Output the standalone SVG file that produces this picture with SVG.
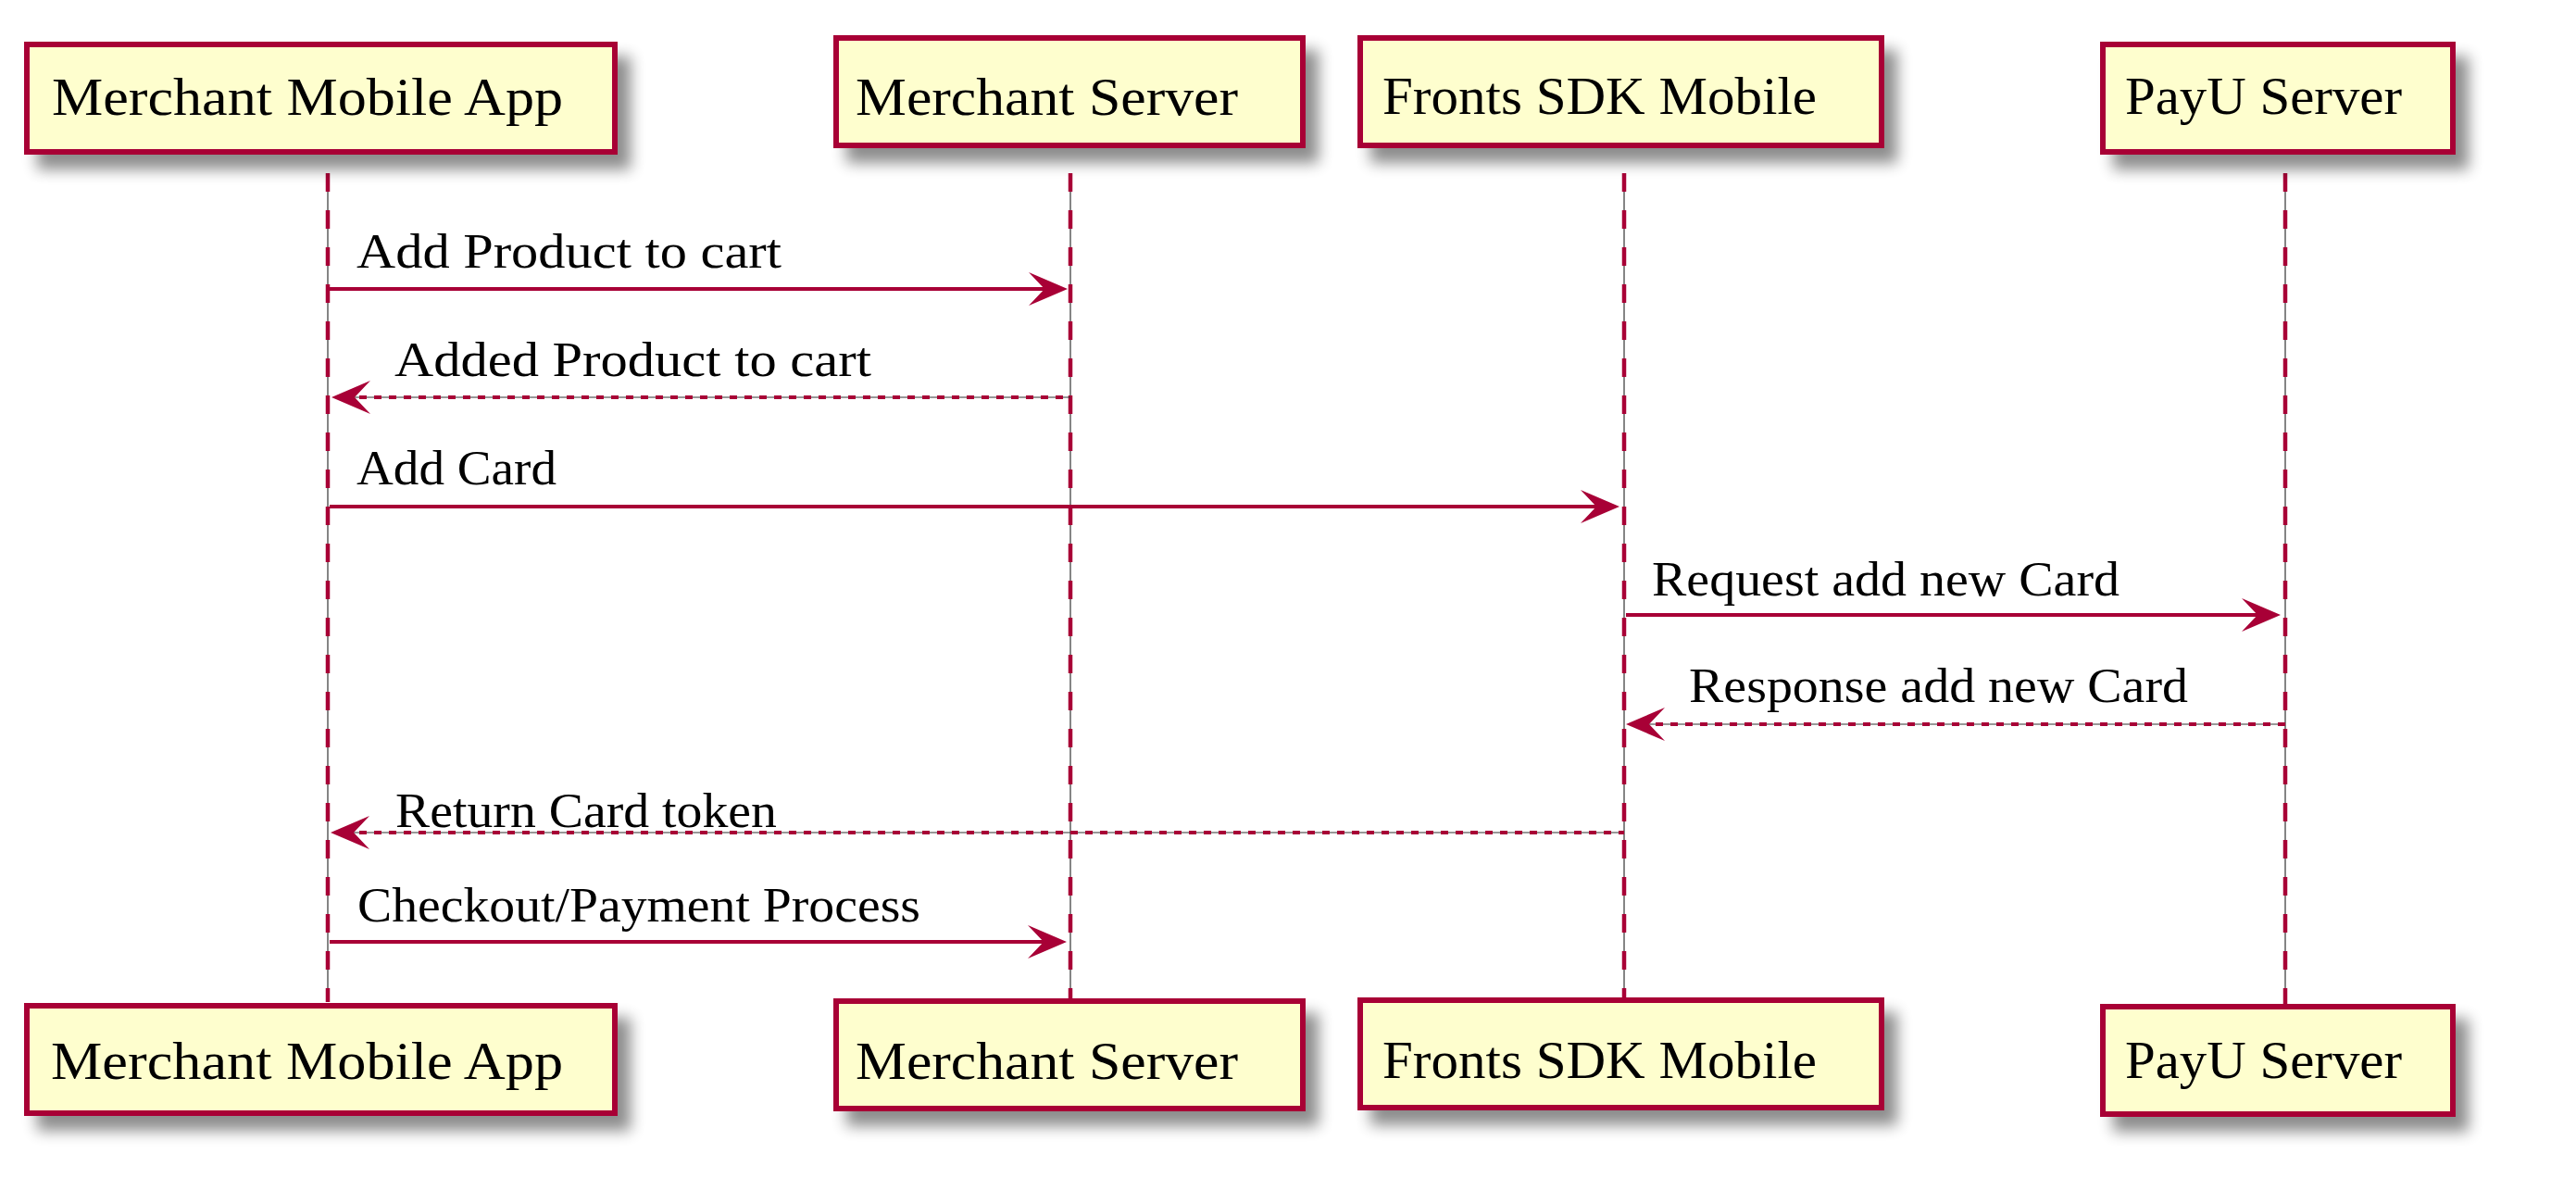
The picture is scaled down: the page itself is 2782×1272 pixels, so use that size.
<svg xmlns="http://www.w3.org/2000/svg" width="2782" height="1272" viewBox="0 0 2782 1272">
<style>
.box{fill:#FEFECE;stroke:#A80036;stroke-width:6;filter:url(#shadow)}
.pt{font-family:"Liberation Serif","Times New Roman",serif;font-size:56px;fill:#000}
.mt{font-family:"Liberation Serif","Times New Roman",serif;font-size:52px;fill:#000}
.life{stroke:#A80036;stroke-width:4.5;stroke-dasharray:20 20;fill:none}
.thin{stroke:#333;stroke-width:1.2;fill:none}
.msg{stroke:#A80036;stroke-width:4;fill:none}
.dash{stroke-dasharray:8 8}
.head{fill:#A80036;stroke:none}
</style>
<defs>
<filter id="shadow" x="-10%" y="-20%" width="130%" height="160%">
<feGaussianBlur in="SourceAlpha" stdDeviation="8" result="b"/>
<feOffset in="b" dx="14" dy="16" result="o"/>
<feComponentTransfer in="o" result="s"><feFuncA type="linear" slope="0.45"/></feComponentTransfer>
<feMerge><feMergeNode in="s"/><feMergeNode in="SourceGraphic"/></feMerge>
</filter>
</defs>
<rect width="2782" height="1272" fill="#FFFFFF"/>
<g id="connectors">
<g id="lifelines">
<line class="thin" x1="354" y1="187" x2="354" y2="1082"/>
<line class="life" x1="354" y1="187" x2="354" y2="1082"/>
<line class="thin" x1="1156" y1="187" x2="1156" y2="1078"/>
<line class="life" x1="1156" y1="187" x2="1156" y2="1078"/>
<line class="thin" x1="1754" y1="187" x2="1754" y2="1077"/>
<line class="life" x1="1754" y1="187" x2="1754" y2="1077"/>
<line class="thin" x1="2468" y1="187" x2="2468" y2="1084"/>
<line class="life" x1="2468" y1="187" x2="2468" y2="1084"/>
</g>
<g id="m1">
<line class="msg" x1="356" y1="312" x2="1140" y2="312"/>
<polygon class="head" points="1153,312 1111,294 1128,312 1111,330"/>
<text class="mt" x="385" y="289" textLength="459" lengthAdjust="spacingAndGlyphs">Add Product to cart</text>
</g>
<g id="m2">
<line class="thin" x1="380" y1="429" x2="1156" y2="429"/>
<line class="msg dash" x1="372" y1="429" x2="1156" y2="429"/>
<polygon class="head" points="358,429 400,411 383,429 400,447"/>
<text class="mt" x="426" y="406" textLength="515" lengthAdjust="spacingAndGlyphs">Added Product to cart</text>
</g>
<g id="m3">
<line class="msg" x1="356" y1="547" x2="1736" y2="547"/>
<polygon class="head" points="1749,547 1707,529 1724,547 1707,565"/>
<text class="mt" x="385" y="523" textLength="216" lengthAdjust="spacingAndGlyphs">Add Card</text>
</g>
<g id="m4">
<line class="msg" x1="1756" y1="664" x2="2450" y2="664"/>
<polygon class="head" points="2463,664 2421,646 2438,664 2421,682"/>
<text class="mt" x="1784" y="643" textLength="505" lengthAdjust="spacingAndGlyphs">Request add new Card</text>
</g>
<g id="m5">
<line class="thin" x1="1780" y1="782" x2="2468" y2="782"/>
<line class="msg dash" x1="1772" y1="782" x2="2468" y2="782"/>
<polygon class="head" points="1756,782 1798,764 1781,782 1798,800"/>
<text class="mt" x="1824" y="758" textLength="539" lengthAdjust="spacingAndGlyphs">Response add new Card</text>
</g>
<g id="m6">
<line class="thin" x1="380" y1="899" x2="1754" y2="899"/>
<line class="msg dash" x1="372" y1="899" x2="1754" y2="899"/>
<polygon class="head" points="357,899 399,881 382,899 399,917"/>
<text class="mt" x="427" y="893" textLength="412" lengthAdjust="spacingAndGlyphs">Return Card token</text>
</g>
<g id="m7">
<line class="msg" x1="356" y1="1017" x2="1139" y2="1017"/>
<polygon class="head" points="1152,1017 1110,999 1127,1017 1110,1035"/>
<text class="mt" x="386" y="995" textLength="608" lengthAdjust="spacingAndGlyphs">Checkout/Payment Process</text>
</g>
</g>
<g id="merchant-app-top">
<rect class="box" x="29" y="48" width="635" height="116"/>
<text class="pt" x="56" y="124" textLength="552" lengthAdjust="spacingAndGlyphs">Merchant Mobile App</text>
</g>
<g id="merchant-server-top">
<rect class="box" x="903" y="41" width="504" height="116"/>
<text class="pt" x="924" y="124" textLength="413" lengthAdjust="spacingAndGlyphs">Merchant Server</text>
</g>
<g id="fronts-sdk-top">
<rect class="box" x="1469" y="41" width="563" height="116"/>
<text class="pt" x="1493" y="123" textLength="469" lengthAdjust="spacingAndGlyphs">Fronts SDK Mobile</text>
</g>
<g id="payu-top">
<rect class="box" x="2271" y="48" width="378" height="116"/>
<text class="pt" x="2295" y="123" textLength="299" lengthAdjust="spacingAndGlyphs">PayU Server</text>
</g>
<g id="merchant-app-bottom">
<rect class="box" x="29" y="1086" width="635" height="116"/>
<text class="pt" x="55" y="1165" textLength="553" lengthAdjust="spacingAndGlyphs">Merchant Mobile App</text>
</g>
<g id="merchant-server-bottom">
<rect class="box" x="903" y="1081" width="504" height="116"/>
<text class="pt" x="924" y="1165" textLength="413" lengthAdjust="spacingAndGlyphs">Merchant Server</text>
</g>
<g id="fronts-sdk-bottom">
<rect class="box" x="1469" y="1080" width="563" height="116"/>
<text class="pt" x="1493" y="1164" textLength="469" lengthAdjust="spacingAndGlyphs">Fronts SDK Mobile</text>
</g>
<g id="payu-bottom">
<rect class="box" x="2271" y="1087" width="378" height="116"/>
<text class="pt" x="2295" y="1164" textLength="299" lengthAdjust="spacingAndGlyphs">PayU Server</text>
</g>
</svg>
